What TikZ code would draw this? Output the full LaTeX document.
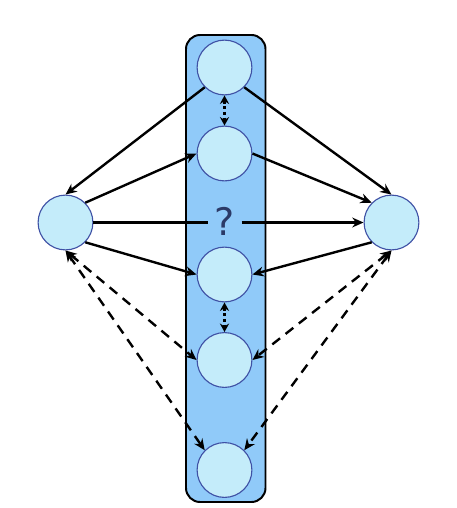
\documentclass[tikz,border=0pt]{standalone}
\usepackage{fontspec}
\usepackage{xcolor}
\usetikzlibrary{arrows.meta}
\newfontfamily\qfont{DejaVu Sans}
\definecolor{unitfill}{HTML}{C4ECFA}
\definecolor{unitdraw}{HTML}{3F51A5}
\definecolor{layerfill}{HTML}{90CAF9}
\definecolor{qcolor}{HTML}{2B3A67}

\begin{document}
\begin{tikzpicture}[x=0.025cm,y=-0.025cm,
  unit/.style={circle,fill=unitfill,draw=unitdraw,line width=0.8pt,minimum size=1.37cm,inner sep=0pt},
  conn/.style={line width=1.7pt,-{Stealth[length=8pt,width=7pt]}},
  back/.style={line width=1.7pt,dash pattern=on 7pt off 5pt,{Stealth[length=8pt,width=7pt]}-{Stealth[length=8pt,width=7pt]}},
  link/.style={line width=2.2pt,dash pattern=on 2pt off 2pt,{Stealth[length=6pt,width=6.5pt]}-{Stealth[length=6pt,width=6.5pt]}}]
\useasboundingbox (0,0) rectangle (456,508);

% Draw the layer
  \filldraw[fill=layerfill,draw=black,line width=1.4pt,rounded corners=10] (186,35) rectangle (265.5,502);

% Draw the units
  \node[unit] (h1) at (224.5,67.5) {};
  \node[unit] (h2) at (224.5,153.5) {};
  \node[unit] (h3) at (224.5,274.5) {};
  \node[unit] (h4) at (224.5,360) {};
  \node[unit] (h5) at (224.5,470) {};
  \node[unit] (in) at (65.5,222.5) {};
  \node[unit] (out) at (391.5,222.5) {};

% the question mark
  \node[inner sep=0pt,text=qcolor] (q) at (224.5,221) {\qfont\fontsize{27}{27}\selectfont ?};
  \coordinate (qa) at (207.5,222.5);
  \coordinate (qb) at (241.5,222.5);

% Draw the forward connections
  \draw[conn] (h1.south west) -- (in.north);
  \draw[conn] (in.north east) -- (h2.west);
  \draw[conn] (h1.south east) -- (out.north);
  \draw[conn] (h2.east) -- (out.north west);
  \draw[line width=1.7pt] (in.east) -- (qa);
  \draw[conn] (qb) -- (out.west);
  \draw[conn] (in.south east) -- (h3.west);
  \draw[conn] (out.south west) -- (h3.east);

% dotted links inside the layer
  \draw[link] (h1.south) -- (h2.north);
  \draw[link] (h3.south) -- (h4.north);

% dashed connections
  \draw[back] (in.south) -- (h4.west);
  \draw[back] (in.south) -- (h5.north west);
  \draw[back] (out.south) -- (h4.east);
  \draw[back] (out.south) -- (h5.north east);
\end{tikzpicture}
\end{document}
